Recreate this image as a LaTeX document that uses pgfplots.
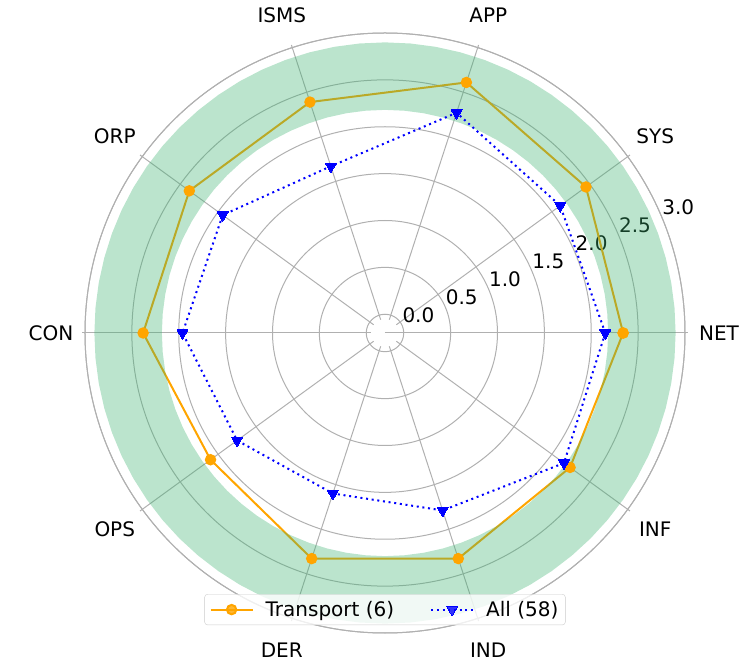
\documentclass[border=0pt]{standalone}
\usepackage{pgfplots}
\pgfplotsset{compat=1.18}
\usepackage{pgfplotstable}
\usepgfplotslibrary{polar}
\usetikzlibrary{calc}
\usepackage{fontspec}
\setmainfont{DejaVu Sans}
\definecolor{gridc}{HTML}{B0B0B0}
\definecolor{bandg}{RGB}{60,179,113}
\definecolor{orng}{HTML}{FFA500}
\definecolor{legedge}{HTML}{CCCCCC}

\pgfplotstableread{
a t
0 2.34
36 2.45
72 2.61
108 2.39
144 2.38
180 2.38
216 2.10
252 2.33
288 2.33
324 2.24
360 2.34
}\transport

\pgfplotstableread{
a v
0 2.15
36 2.11
72 2.27
108 1.67
144 1.94
180 1.96
216 1.75
252 1.60
288 1.79
324 2.16
360 2.15
}\allorgs

\begin{document}
\begin{tikzpicture}[font=\fontsize{20}{24}\selectfont]
\begin{polaraxis}[
  width=600pt, height=600pt, scale only axis,
  ymin=0, ymax=3.2,
  xmin=0, xmax=360,
  xtick={0,36,...,324}, xticklabels={},
  ytick={0.2,0.7,1.2,1.7,2.2,2.7,3.2}, yticklabels={},
  xmajorgrids=false, ymajorgrids=true,
  major grid style={draw=gridc, line width=1pt},
  axis line style={draw=gridc, line width=1pt},
  major tick length=0pt,
  clip=false,
  y filter/.expression={y+0.2},
  legend columns=2,
  legend cell align=left,
  legend style={at={(0.5,0.039)}, anchor=center, draw=legedge, rounded corners=3pt,
    fill=white, fill opacity=0.8, text opacity=1, draw opacity=1,
    inner xsep=5pt, inner ysep=5pt,
    /tikz/every odd column/.append style={column sep=10pt},
    /tikz/every even column/.append style={column sep=34pt},
    font=\fontsize{20}{24}\selectfont},
  legend image code/.code={\draw[mark repeat=2,mark phase=2] plot coordinates {(0pt,0pt)(21pt,0pt)(42pt,0pt)};},
]
\coordinate (C) at (axis cs:0,0);
\pgfplotsinvokeforeach{0,36,...,324}{
  \draw[gridc, line width=1pt] (axis cs:#1,0.15) -- (axis cs:#1,3.23);
}
\node[anchor=south west, inner sep=0pt, yshift=3pt] at (axis cs:22.5,0.2) {0.0};
\node[anchor=south west, inner sep=0pt, yshift=3pt] at (axis cs:22.5,0.7) {0.5};
\node[anchor=south west, inner sep=0pt, yshift=3pt] at (axis cs:22.5,1.2) {1.0};
\node[anchor=south west, inner sep=0pt, yshift=3pt] at (axis cs:22.5,1.7) {1.5};
\node[anchor=south west, inner sep=0pt, yshift=3pt] at (axis cs:22.5,2.2) {2.0};
\node[anchor=south west, inner sep=0pt, yshift=3pt] at (axis cs:22.5,2.7) {2.5};
\node[anchor=south west, inner sep=0pt, yshift=3pt] at (axis cs:22.5,3.2) {3.0};

\addplot[orng, line width=2pt, mark=*, mark size=4.7pt, mark options={solid, fill=orng, draw=orng}]
  table[x=a, y=t]{\transport};
\addlegendentry{Transport (6)}

\addplot[forget plot, draw=none, fill=bandg, fill opacity=0.35] coordinates {
(0,2.9)(5,2.9)(10,2.9)(15,2.9)(20,2.9)(25,2.9)(30,2.9)(35,2.9)(40,2.9)(45,2.9)
(50,2.9)(55,2.9)(60,2.9)(65,2.9)(70,2.9)(75,2.9)(80,2.9)(85,2.9)(90,2.9)(95,2.9)
(100,2.9)(105,2.9)(110,2.9)(115,2.9)(120,2.9)(125,2.9)(130,2.9)(135,2.9)(140,2.9)(145,2.9)
(150,2.9)(155,2.9)(160,2.9)(165,2.9)(170,2.9)(175,2.9)(180,2.9)(185,2.9)(190,2.9)(195,2.9)
(200,2.9)(205,2.9)(210,2.9)(215,2.9)(220,2.9)(225,2.9)(230,2.9)(235,2.9)(240,2.9)(245,2.9)
(250,2.9)(255,2.9)(260,2.9)(265,2.9)(270,2.9)(275,2.9)(280,2.9)(285,2.9)(290,2.9)(295,2.9)
(300,2.9)(305,2.9)(310,2.9)(315,2.9)(320,2.9)(325,2.9)(330,2.9)(335,2.9)(340,2.9)(345,2.9)
(350,2.9)(355,2.9)(360,2.9)
(360,2.18)(355,2.18)(350,2.18)(345,2.18)(340,2.18)(335,2.18)(330,2.18)(325,2.18)(320,2.18)(315,2.18)
(310,2.18)(305,2.18)(300,2.18)(295,2.18)(290,2.18)(285,2.18)(280,2.18)(275,2.18)(270,2.18)(265,2.18)
(260,2.18)(255,2.18)(250,2.18)(245,2.18)(240,2.18)(235,2.18)(230,2.18)(225,2.18)(220,2.18)(215,2.18)
(210,2.18)(205,2.18)(200,2.18)(195,2.18)(190,2.18)(185,2.18)(180,2.18)(175,2.18)(170,2.18)(165,2.18)
(160,2.18)(155,2.18)(150,2.18)(145,2.18)(140,2.18)(135,2.18)(130,2.18)(125,2.18)(120,2.18)(115,2.18)
(110,2.18)(105,2.18)(100,2.18)(95,2.18)(90,2.18)(85,2.18)(80,2.18)(75,2.18)(70,2.18)(65,2.18)
(60,2.18)(55,2.18)(50,2.18)(45,2.18)(40,2.18)(35,2.18)(30,2.18)(25,2.18)(20,2.18)(15,2.18)
(10,2.18)(5,2.18)(0,2.18)
} -- cycle;

\addplot[blue, line width=2pt, dash pattern=on 2pt off 3.7pt, mark=triangle*, mark size=6.3pt,
  mark options={solid, rotate=180, fill=blue, draw=blue, line width=0pt}]
  table[x=a, y=v]{\allorgs};
\addlegendentry{All (58)}

\node at (axis cs:0,3.563) {NET};
\node at (axis cs:36,3.563) {SYS};
\node at (axis cs:72,3.563) {APP};
\node at (axis cs:108,3.563) {ISMS};
\node at (axis cs:144,3.563) {ORP};
\node at (axis cs:180,3.563) {CON};
\node at (axis cs:216,3.563) {OPS};
\node at (axis cs:252,3.563) {DER};
\node at (axis cs:288,3.563) {IND};
\node at (axis cs:324,3.563) {INF};
\end{polaraxis}
\pgfresetboundingbox
\path[use as bounding box] ($(C)+(-385pt,333pt)$) rectangle ($(C)+(370pt,-330pt)$);
\end{tikzpicture}
\end{document}
